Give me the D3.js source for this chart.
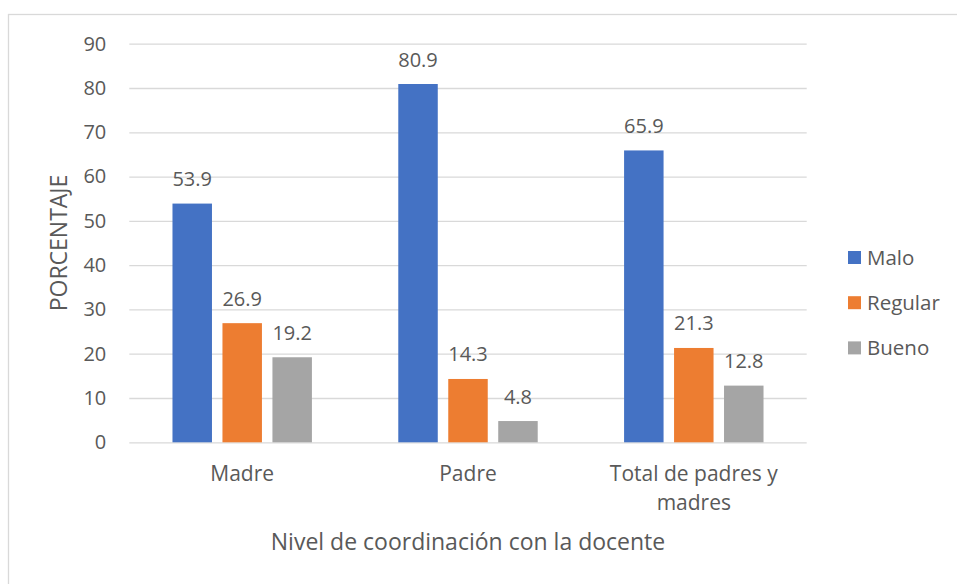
<!DOCTYPE html>
<html>
<head>
<meta charset="utf-8">
<script src="https://cdn.jsdelivr.net/npm/d3@7"></script>
<style>
  html, body { margin: 0; padding: 0; background: #fff; }
  svg { display: block; }
  text { font-family: "Open Sans", sans-serif; fill: #595959; }
</style>
</head>
<body>
<svg id="chart" width="957" height="584"></svg>
<script>
const categories = [["Madre"], ["Padre"], ["Total de padres y", "madres"]];
const seriesNames = ["Malo", "Regular", "Bueno"];
const malo = [53.9, 80.9, 65.9];
const regular = [26.9, 14.3, 21.3];
const bueno = [19.2, 4.8, 12.8];
const yTicks = [0, 10, 20, 30, 40, 50, 60, 70, 80, 90];
const colors = ["#4472C4", "#ED7D31", "#A5A5A5"];
const yTitle = "PORCENTAJE";
const xTitle = "Nivel de coordinación con la docente";

const seriesValues = [malo, regular, bueno];
const svg = d3.select("#chart");

// outer chart border (top & left visible)
svg.append("rect")
  .attr("x", 8.5).attr("y", 14.5)
  .attr("width", 1200).attr("height", 1200)
  .attr("fill", "none").attr("stroke", "#d9d9d9").attr("stroke-width", 1.3);

const plot = { left: 129.3, right: 806.7, top: 43.7, bottom: 442.3 };

const y = d3.scaleLinear().domain([0, 90]).range([plot.bottom, plot.top]);
const catKeys = categories.map((c, i) => i);
const x0 = d3.scaleBand().domain(catKeys).range([plot.left, plot.right])
  .paddingInner(0.336).paddingOuter(0.168);
const x1 = d3.scaleBand().domain(d3.range(seriesNames.length)).range([0, x0.bandwidth()])
  .paddingInner(0.21).paddingOuter(0.105);

// gridlines
const yAxis = d3.axisLeft(y).tickValues(yTicks).tickSize(-(plot.right - plot.left)).tickPadding(23);
const gy = svg.append("g").attr("transform", `translate(${plot.left},0)`).call(yAxis);
gy.select(".domain").remove();
gy.selectAll(".tick line").attr("stroke", "#d9d9d9").attr("stroke-width", 1.3);
gy.selectAll(".tick text").attr("font-size", 20).attr("fill", "#595959")
  .style("font-family", "'Open Sans', sans-serif");

// bars
const groups = svg.append("g").selectAll("g").data(catKeys).join("g")
  .attr("transform", d => `translate(${x0(d)},0)`);
groups.selectAll("rect")
  .data(ci => seriesValues.map((vals, si) => ({ si, v: vals[ci] })))
  .join("rect")
  .attr("x", d => x1(d.si))
  .attr("width", x1.bandwidth())
  .attr("y", d => y(d.v))
  .attr("height", d => y(0) - y(d.v))
  .attr("fill", d => colors[d.si]);

// data labels
groups.selectAll("text.lbl")
  .data(ci => seriesValues.map((vals, si) => ({ si, v: vals[ci] })))
  .join("text")
  .attr("class", "lbl")
  .attr("x", d => x1(d.si) + x1.bandwidth() / 2)
  .attr("y", d => y(d.v) - 17.5)
  .attr("text-anchor", "middle")
  .attr("font-size", 20)
  .text(d => d.v.toFixed(1));

// category labels
const catG = svg.append("g");
categories.forEach((lines, i) => {
  const cx = x0(i) + x0.bandwidth() / 2;
  const t = catG.append("text")
    .attr("x", cx)
    .attr("y", 481)
    .attr("text-anchor", "middle")
    .attr("font-size", 21);
  lines.forEach((ln, j) => {
    t.append("tspan").attr("x", cx).attr("y", 481 + j * 29).text(ln);
  });
});

// axis titles
svg.append("text")
  .attr("x", (plot.left + plot.right) / 2)
  .attr("y", 550)
  .attr("text-anchor", "middle")
  .attr("font-size", 23)
  .text(xTitle);

svg.append("text")
  .attr("transform", `translate(67,${(plot.top + plot.bottom) / 2}) rotate(-90)`)
  .attr("text-anchor", "middle")
  .attr("font-size", 23)
  .text(yTitle);

// legend
const legend = svg.append("g");
seriesNames.forEach((name, i) => {
  const cy = 257.5 + i * 45.2;
  legend.append("rect").attr("x", 848).attr("y", cy - 6.5).attr("width", 13).attr("height", 13)
    .attr("fill", colors[i]);
  legend.append("text").attr("x", 867).attr("y", cy + 7).attr("font-size", 20.5).text(name);
});
</script>
</body>
</html>
